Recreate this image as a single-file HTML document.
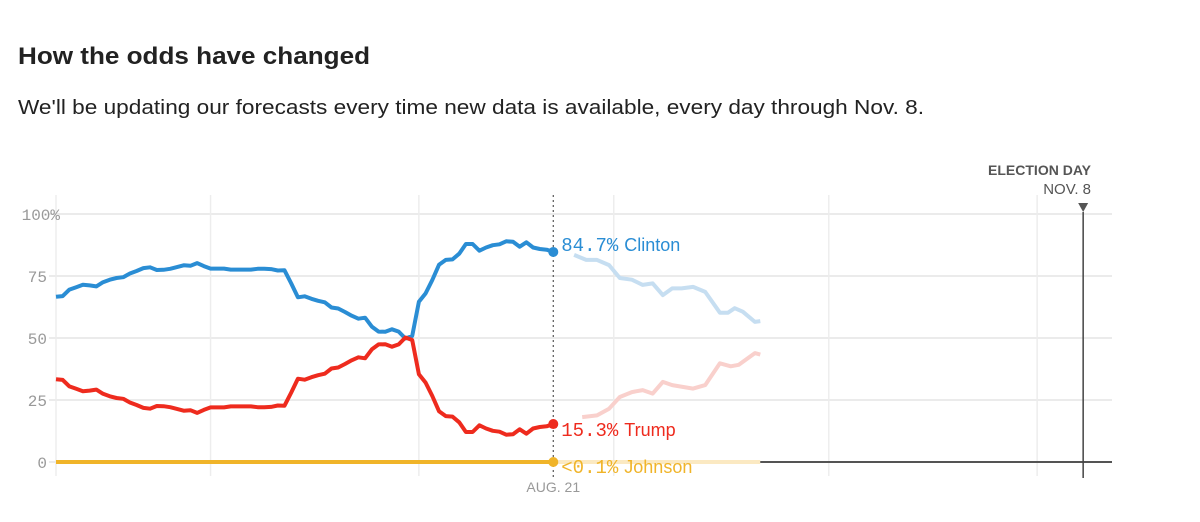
<!DOCTYPE html>
<html><head><meta charset="utf-8"><style>
html,body{margin:0;padding:0;background:#fff;width:1200px;height:522px;overflow:hidden}
svg{display:block;font-family:"Liberation Sans",sans-serif}
</style></head><body>
<svg id="chart" width="1200" height="522" viewBox="0 0 1200 522">
<text x="18" y="64" font-size="24" font-weight="bold" fill="#222" textLength="352" lengthAdjust="spacingAndGlyphs">How the odds have changed</text>
<text x="18" y="114" font-size="20" fill="#222" textLength="906" lengthAdjust="spacingAndGlyphs">We'll be updating our forecasts every time new data is available, every day through Nov. 8.</text>
<g id="grid"></g>
<g id="marks"></g>
<g id="labels"></g>
</svg>
<script>
const clinton = [66.6,66.9,69.5,70.5,71.5,71.2,70.8,72.5,73.5,74.2,74.5,76,77,78.2,78.5,77.4,77.5,77.9,78.6,79.3,79.1,80.2,79,78,78,78,77.6,77.6,77.6,77.6,77.9,77.9,77.8,77.2,77.3,72,66.4,66.8,65.8,65,64.4,62.3,61.9,60.5,59,57.8,58.2,54.6,52.6,52.5,53.5,52.6,49.8,50.8,64.6,68,73.4,79.5,81.5,81.7,84,87.9,87.9,85.2,86.5,87.4,87.8,89,88.8,86.8,88.6,86.5,85.9,85.6,84.7];
const trump = [33.4,33.1,30.5,29.5,28.5,28.8,29.2,27.5,26.5,25.8,25.5,24,23,21.8,21.5,22.6,22.5,22.1,21.4,20.7,20.9,19.8,21,22,22,22,22.4,22.4,22.4,22.4,22.1,22.1,22.2,22.8,22.7,28,33.6,33.2,34.2,35,35.6,37.7,38.1,39.5,41,42.2,41.8,45.4,47.4,47.5,46.5,47.4,50.2,49.2,35.4,32,26.6,20.5,18.5,18.3,16,12.1,12.1,14.8,13.5,12.6,12.2,11,11.2,13.2,11.4,13.5,14.1,14.4,15.3];
const clintonProjDays = [77.1,78.9,80.5,82.3,83.9,85.7,87.3,88.8,90.3,91.7,93.1,94.8,96.6,98.8,100,101,102.2,104,104.8];
const clintonProj = [83.5,81.5,81.5,79.4,74.2,73.5,71.4,72,67.3,70,70,70.6,68.6,60.2,60.2,62,60.6,56.5,56.8];
const trumpProjDays = [78.3,80.5,82.3,83.9,85.7,87.3,88.8,90.3,91.7,94.8,96.6,98.8,100.4,101.6,104,104.8];
const trumpProj = [18.1,18.8,21.5,26.2,28.2,29,27.6,32.3,31,29.6,31,39.8,38.6,39.2,43.9,43.3];
const yTicks = [0,25,50,75,100];
const yTickLabels = ["0","25","50","75","100%"];
const gridDays = [23,54,83,115,146];
const todayDay = 74, electionDay = 153, projEnd = 104.8;
const latest = ["84.7%","15.3%","<0.1%"];

const NS="http://www.w3.org/2000/svg";
const X=d=>56+d*6.72, Y=v=>462-v*2.48;
function mk(tag,attrs,parent){const e=document.createElementNS(NS,tag);for(const k in attrs)e.setAttribute(k,attrs[k]);parent.appendChild(e);return e;}
const grid=document.getElementById('grid'),marks=document.getElementById('marks'),labels=document.getElementById('labels');
yTicks.forEach((t,i)=>{
  const l=mk('line',{x1:49,x2:1112,y1:Y(t),y2:Y(t),stroke:'#ebebeb','stroke-width':2},grid);
  
  
  const tx=mk('text',{x:i==4?60:47,y:Y(t)+6,'text-anchor':'end','font-size':16,fill:'#999','font-family':'Liberation Mono, monospace'},labels);
  tx.textContent=yTickLabels[i];
  
  
});
[0].concat(gridDays).forEach(d=>{
  const l=mk('line',{x1:X(d),x2:X(d),y1:195,y2:476,stroke:'#ededed','stroke-width':1.5},grid);
  
  
});
function path(days,vals,color,w,name){
  const d=vals.map((v,i)=>(i?'L':'M')+X(days[i]).toFixed(1)+','+Y(v).toFixed(1)).join('');
  const p=mk('path',{d:d,fill:'none',stroke:color,'stroke-width':w,'stroke-linejoin':'round'},marks);
  
  
}
const days=clinton.map((_,i)=>i);
path(clintonProjDays,clintonProj,'#c6def1',4,'clinton-forecast-line');
path(trumpProjDays,trumpProj,'#f9d0cc',4,'trump-forecast-line');
const jl=mk('line',{x1:X(todayDay),x2:X(projEnd),y1:Y(0),y2:Y(0),stroke:'#fbe9c2','stroke-width':4},marks);


const base=mk('line',{x1:X(projEnd),x2:1112,y1:Y(0),y2:Y(0),stroke:'#222','stroke-width':1.5},marks);


path(days,clinton,'#2a8dd4',4,'clinton-line');
path(days,trump,'#ee2b1e',4,'trump-line');
const jo=mk('line',{x1:X(0),x2:X(todayDay),y1:Y(0),y2:Y(0),stroke:'#f0b429','stroke-width':4},marks);


const today=mk('line',{x1:X(todayDay),x2:X(todayDay),y1:195,y2:478,stroke:'#555','stroke-width':1.2,'stroke-dasharray':'2,3'},marks);


const el=mk('line',{x1:X(electionDay)-1,x2:X(electionDay)-1,y1:212,y2:478,stroke:'#444','stroke-width':1.5},marks);


const tri=mk('path',{d:`M${X(electionDay)-6},203L${X(electionDay)+4},203L${X(electionDay)-1},212Z`,fill:'#555'},marks);


const ends=[[clinton[todayDay],'#2a8dd4','Clinton',-1],[trump[todayDay],'#ee2b1e','Trump',12],[0,'#f0b429','Johnson',11]];
ends.forEach((e,i)=>{
  const c=mk('circle',{cx:X(todayDay),cy:Y(e[0]),r:5,fill:e[1]},marks);
  
  
  const t=mk('text',{x:X(todayDay)+8,y:Y(e[0])+e[3],'font-size':18,fill:e[1]},labels);
  
  
  const a=mk('tspan',{'font-family':'Liberation Mono, monospace','font-size':19},t);a.textContent=latest[i];
  const b=mk('tspan',{dx:6,'font-size':18},t);b.textContent=e[2];
});
const ag=mk('text',{x:X(todayDay),y:492,'text-anchor':'middle','font-size':14,fill:'#999'},labels);
ag.textContent='AUG. 21';


const ed=mk('text',{x:1091,y:175,'text-anchor':'end','font-size':14,'font-weight':'bold',fill:'#555'},labels);
ed.textContent='ELECTION DAY';


const nv=mk('text',{x:1091,y:194,'text-anchor':'end','font-size':15,fill:'#555'},labels);
nv.textContent='NOV. 8';


</script>
</body></html>
